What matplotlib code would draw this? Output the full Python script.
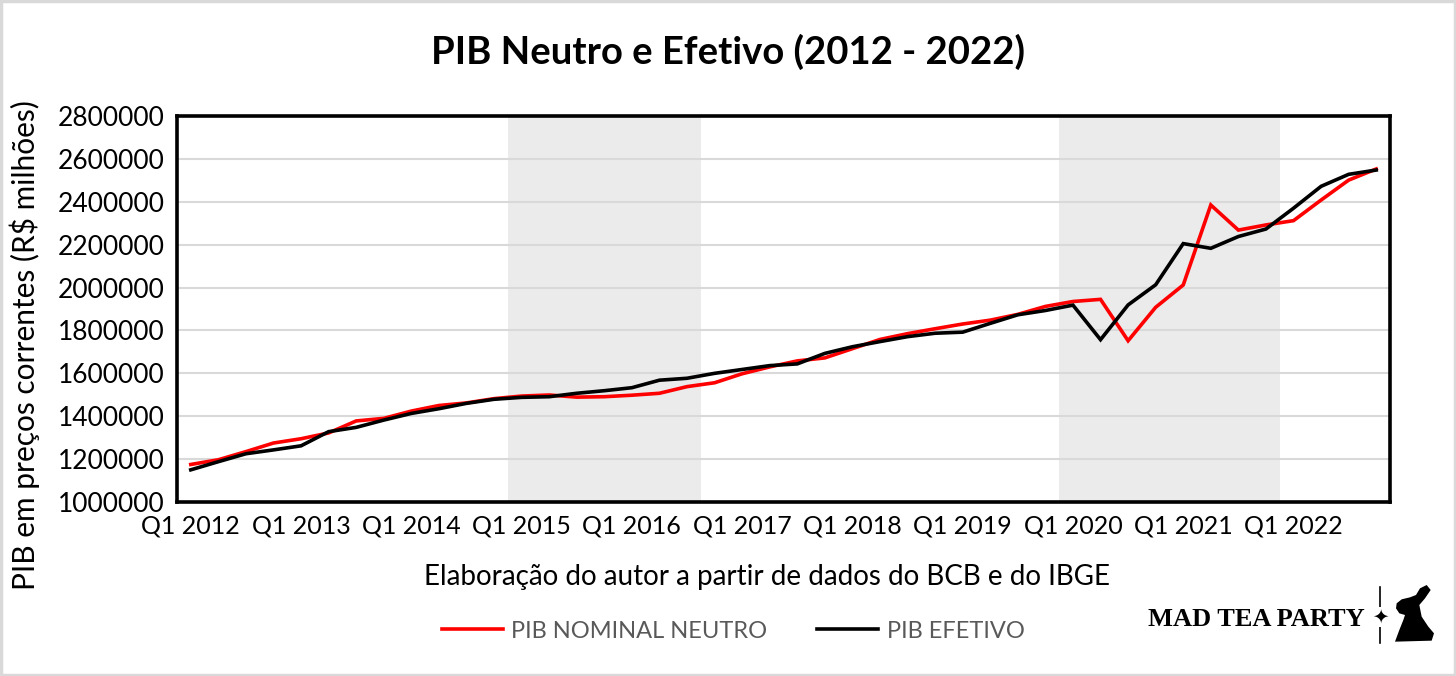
import matplotlib
matplotlib.use("Agg")
import matplotlib.pyplot as plt
from matplotlib.patches import Rectangle, Polygon
from matplotlib.lines import Line2D
from matplotlib import font_manager

# ---------------- data ----------------
years = list(range(2012, 2023))
quarters = [f"Q{q} {y}" for y in years for q in range(1, 5)]
tick_labels = [f"Q1 {y}" for y in years]

pib_nominal_neutro = [1175, 1197, 1235, 1275, 1295, 1322, 1378, 1390, 1424, 1450,
                      1462, 1482, 1494, 1499, 1489, 1491, 1498, 1507, 1538, 1556,
                      1598, 1630, 1658, 1672, 1715, 1758, 1785, 1808, 1830, 1848,
                      1875, 1912, 1935, 1945, 1752, 1908, 2012, 2385, 2268, 2292,
                      2312, 2408, 2501, 2553]
pib_efetivo = [1150, 1188, 1225, 1243, 1262, 1328, 1348, 1382, 1413, 1435,
               1460, 1479, 1488, 1491, 1507, 1519, 1533, 1568, 1577, 1600,
               1618, 1636, 1644, 1693, 1724, 1748, 1771, 1787, 1792, 1833,
               1873, 1893, 1918, 1757, 1919, 2013, 2205, 2183, 2238, 2273,
               2370, 2472, 2528, 2548]
pib_nominal_neutro = [v * 1000 for v in pib_nominal_neutro]
pib_efetivo = [v * 1000 for v in pib_efetivo]

# recession periods (first and last quarter shaded)
recessions = [("Q1 2015", "Q3 2016"), ("Q1 2020", "Q4 2021")]

# ---------------- fonts ----------------
available = {f.name for f in font_manager.fontManager.ttflist}
base_font = "Lato" if "Lato" in available else "DejaVu Sans"
plt.rcParams["font.family"] = [base_font, "DejaVu Sans"]

W, H = 1456, 676
fig = plt.figure(figsize=(W / 100, H / 100), dpi=100)
fig.patch.set_facecolor("white")

ax = fig.add_axes([177 / W, 1 - 502 / H, (1390 - 177) / W, (502 - 116) / H])

x = list(range(len(quarters)))

for start, end in recessions:
    i0 = quarters.index(start)
    i1 = quarters.index(end)
    ax.axvspan(i0 - 0.5, i1 + 0.5, color="#ebebeb", lw=0, zorder=0)

ax.plot(x, pib_nominal_neutro, color="#ff0000", lw=2.6, zorder=3,
        solid_joinstyle="miter", label="PIB NOMINAL NEUTRO")
ax.plot(x, pib_efetivo, color="#000000", lw=2.6, zorder=4,
        solid_joinstyle="miter", label="PIB EFETIVO")

ax.set_xlim(-0.5, len(quarters) - 0.5)
ax.set_ylim(1000000, 2800000)
yt = list(range(1000000, 2800001, 200000))
ax.set_yticks(yt)
ax.set_yticklabels([str(v) for v in yt])
ax.set_xticks([quarters.index(t) for t in tick_labels])
ax.set_xticklabels(tick_labels)
ax.tick_params(axis="both", length=0, colors="#000000")
ax.tick_params(axis="y", pad=9, labelsize=19)
ax.tick_params(axis="x", pad=9, labelsize=18)

ax.yaxis.grid(True, color="#d9d9d9", lw=1.5, zorder=1)
ax.set_axisbelow(True)
for s in ax.spines.values():
    s.set_linewidth(2.6)
    s.set_color("#000000")
    s.set_zorder(6)

ax.set_ylabel("PIB em preços correntes (R$ milhões)", fontsize=21.5)
ax.yaxis.set_label_coords(-137 / (1390 - 177), 0.407)

fig.text(728 / W, 1 - 52 / H, "PIB Neutro e Efetivo (2012 - 2022)",
         ha="center", va="center", fontsize=27.5, fontweight="bold")
fig.text(767 / W, 1 - 577 / H,
         "Elaboração do autor a partir de dados do BCB e do IBGE",
         ha="center", va="center", fontsize=20)

# legend
handles = [Line2D([], [], color="#ff0000", lw=2.6),
           Line2D([], [], color="#000000", lw=2.6)]
leg = fig.legend(handles, ["PIB NOMINAL NEUTRO", "PIB EFETIVO"],
                 loc="center", bbox_to_anchor=(733 / W, 1 - 631 / H),
                 ncol=2, frameon=False, fontsize=17, handlelength=2.6,
                 handletextpad=0.35, columnspacing=2.1, labelcolor="#595959")

# brand mark
fig.text(1256 / W, 1 - 619 / H, "MAD TEA PARTY", ha="center", va="center",
         fontsize=19, fontweight="bold", family=["Liberation Serif", "DejaVu Serif"])
fig.add_artist(Line2D([1380 / W, 1380 / W], [1 - 587 / H, 1 - 643 / H],
                      color="black", lw=1.2, transform=fig.transFigure))
fig.text(1380 / W, 1 - 617 / H, "✦", ha="center", va="center",
         fontsize=14, family=["DejaVu Sans"], color="black",
         bbox=dict(facecolor="white", edgecolor="none", pad=0.5))
rabbit = [(200, 15), (212, 30), (195, 55), (178, 75), (185, 110), (205, 140),
          (222, 160), (215, 182), (105, 185), (118, 150), (130, 120), (135, 105),
          (118, 100), (108, 85), (110, 70), (125, 58), (150, 52), (168, 45), (180, 25)]
rabbit_fig = [((1360 + px / 3) / W, 1 - (580 + py / 3) / H) for px, py in rabbit]
fig.add_artist(Polygon(rabbit_fig, closed=True, facecolor="black",
                       edgecolor="none", transform=fig.transFigure))

# outer light border
fig.add_artist(Rectangle((0.001, 0.002), 0.998, 0.996, transform=fig.transFigure,
                         fill=False, edgecolor="#d9d9d9", lw=2.5))

fig.savefig("out.png", dpi=100, facecolor="white")
